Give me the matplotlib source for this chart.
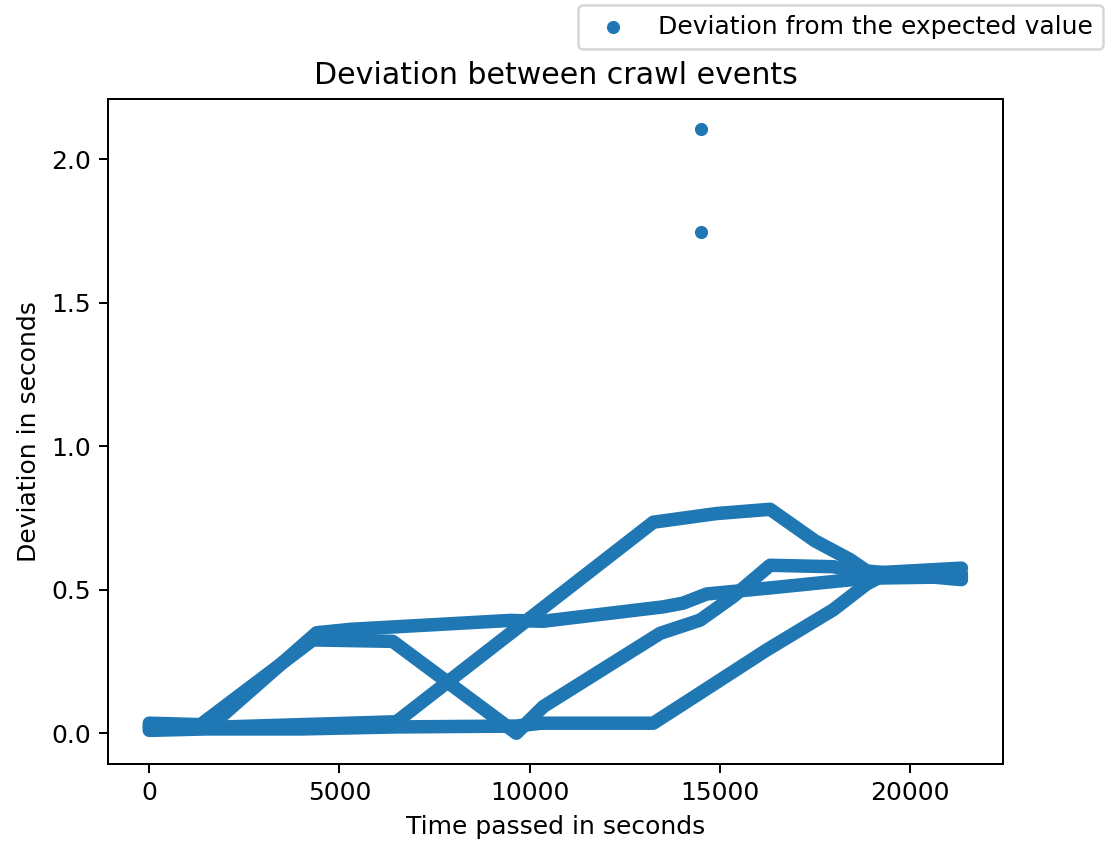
import matplotlib
matplotlib.use("Agg")
import matplotlib.pyplot as plt

# crawler traces (time in s, deviation in s)
trace_a_x = [0, 1500, 4000, 6500, 9650, 10300, 13250, 14480, 16230, 17980, 18860, 19300, 21350]
trace_a_y = [0.01, 0.015, 0.015, 0.022, 0.025, 0.035, 0.035, 0.14, 0.29, 0.43, 0.52, 0.55, 0.555]

trace_b_x = [0, 1350, 4300, 6400, 9650, 10360, 13430, 14480, 15350, 16320, 17980, 18860, 21350]
trace_b_y = [0.035, 0.03, 0.325, 0.32, 0.0, 0.093, 0.348, 0.394, 0.476, 0.585, 0.58, 0.557, 0.575]

trace_c_x = [0, 1650, 4400, 5300, 9500, 10350, 13500, 14030, 14650, 16230, 18860, 21350]
trace_c_y = [0.025, 0.03, 0.35, 0.362, 0.393, 0.39, 0.44, 0.453, 0.485, 0.505, 0.54, 0.545]

trace_d_x = [0, 1500, 6500, 13250, 14900, 16320, 17500, 18420, 18860, 21350]
trace_d_y = [0.02, 0.02, 0.04, 0.735, 0.765, 0.78, 0.67, 0.605, 0.565, 0.535]

outlier_x = [14500, 14500]
outlier_y = [2.105, 1.745]

traces = [(trace_a_x, trace_a_y), (trace_b_x, trace_b_y),
          (trace_c_x, trace_c_y), (trace_d_x, trace_d_y)]

color = "#1f77b4"

fig = plt.figure(figsize=(1107 / 180, 845 / 180), dpi=180)
ax = fig.add_axes([0.0978, 0.0959, 0.8080, 0.7866])

for tx, ty in traces:
    ax.plot(tx, ty, color=color, lw=5.4, solid_capstyle="round",
            solid_joinstyle="round")

ax.scatter(outlier_x, outlier_y, s=18, color=color,
           label="Deviation from the expected value")

ax.set_xlim(-1078, 22435)
ax.set_ylim(-0.107, 2.208)
ax.set_xlabel("Time passed in seconds")
ax.set_ylabel("Deviation in seconds")
ax.set_title("Deviation between crawl events")

ax.legend(loc="upper right", bbox_to_anchor=(0.9964, 0.9941),
          bbox_transform=fig.transFigure, borderaxespad=0)

fig.savefig("out.png", dpi=180)
